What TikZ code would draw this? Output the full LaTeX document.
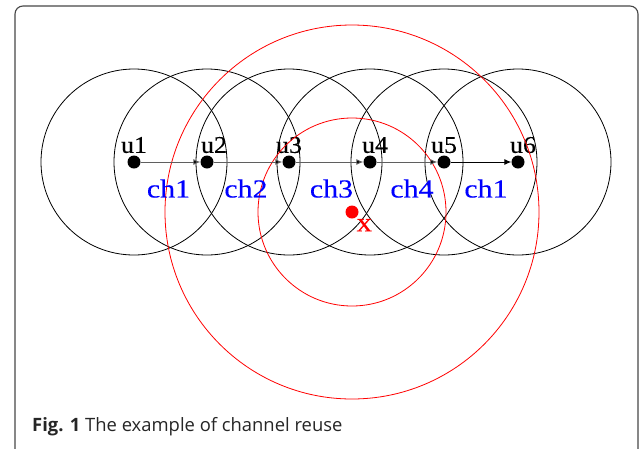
\documentclass[tikz,border=0pt]{standalone}
\usepackage{fontspec}
\setmainfont{Liberation Serif}
\newfontfamily\namefont[FakeStretch=1.08,FakeBold=0.3]{Liberation Serif}
\newfontfamily\labelfont[FakeStretch=1.15,FakeBold=0.3]{Liberation Serif}
\newfontfamily\capfont{Open Sans}
\usetikzlibrary{arrows.meta}

\definecolor{framegray}{RGB}{70,70,70}
\definecolor{linkgray}{RGB}{95,95,95}

\tikzset{
  user/.style={circle,fill=black,inner sep=0pt,minimum size=13pt},
  uname/.style={font=\namefont\fontsize{24}{28}\selectfont,inner sep=1pt,label distance=1pt},
  cell/.style={draw=black,line width=0.8pt},
  reuse/.style={draw=red,line width=0.8pt},
  link/.style={-{Latex[length=7pt,width=6pt]},draw=linkgray,line width=0.9pt},
  chan/.style={text=blue,font=\labelfont\fontsize{26}{30}\selectfont,inner sep=2pt,below=15pt},
}

\begin{document}
\begin{tikzpicture}[x=1pt,y=-1pt]
  \useasboundingbox (0,0) rectangle (641,448);
  \draw[framegray,line width=1.1pt,rounded corners=8pt] (15,470) -- (15,6) -- (638,6) -- (638,470);

  % users along the chain
  \draw (134,162) node[user,label={[uname]above:u1}] (u1) {};
  \draw (207,162) node[user,label={[uname,xshift=7pt]above:u2}] (u2) {};
  \draw (289,162) node[user,label={[uname]above:u3}] (u3) {};
  \draw (370,162) node[user,label={[uname,xshift=5pt]above:u4}] (u4) {};
  \draw (444,162) node[user,label={[uname]above:u5}] (u5) {};
  \draw (518,162) node[user,label={[uname,xshift=5pt]above:u6}] (u6) {};

  % transmission ranges
  \foreach \i in {1,...,6}
    \draw[cell] (u\i) circle (93pt);

  % interference point and its ranges
  \draw (352,212) node[user,fill=red,label={[text=red,font=\labelfont\fontsize{27}{31}\selectfont,inner sep=1pt,label distance=0pt]-60:x}] (x) {};
  \draw[reuse] (x) circle (94pt);
  \draw[reuse] (x) circle (187pt);

  \path[link] (u1) edge node[chan,xshift=-2pt]{ch1} (u2);
  \path[link] (u2) edge node[chan,xshift=-2pt]{ch2} (u3);
  \path[link] (u3) edge node[chan,xshift=2pt]{ch3} (u4);
  \path[link] (u4) edge node[chan,xshift=5pt]{ch4} (u5);
  \path[link,draw=black] (u5) edge node[chan,xshift=5pt]{ch1} (u6);

  \node[anchor=base west,inner sep=0pt,text=black!85,font=\capfont\fontsize{18.4}{22}\selectfont] (cap) at (32,431) {\textbf{Fig. 1} The example of channel reuse};
\end{tikzpicture}
\end{document}
